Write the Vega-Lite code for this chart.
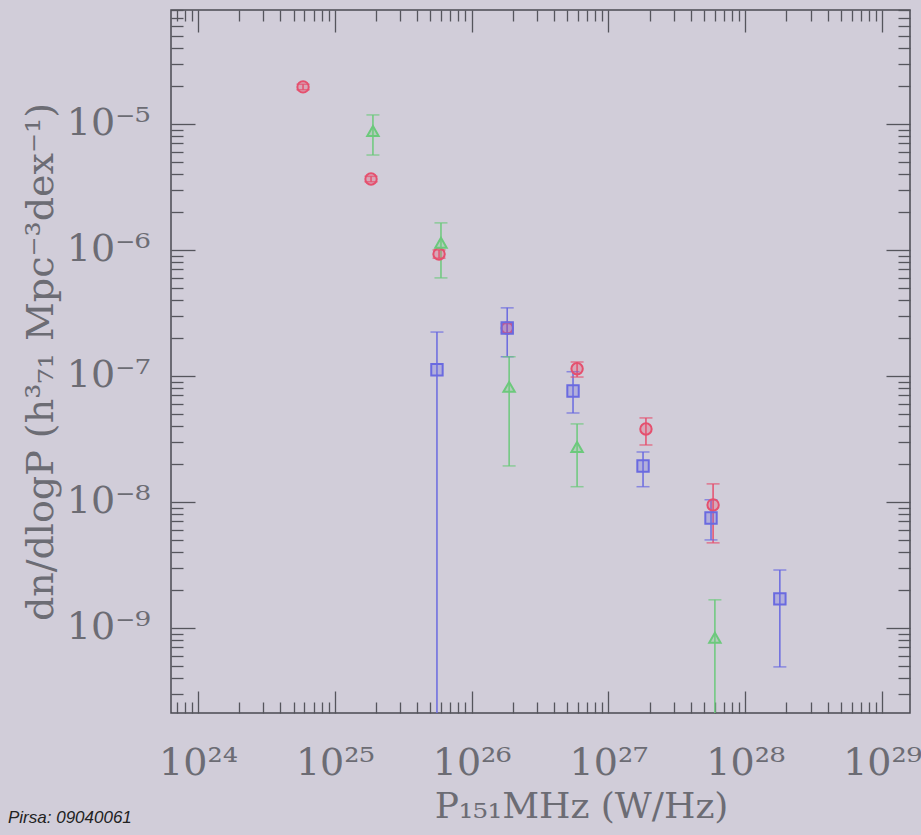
{
  "$schema": "https://vega.github.io/schema/vega-lite/v6.json",
  "width": 739,
  "height": 703,
  "autosize": {"type": "none"},
  "padding": {"left": 171, "top": 10, "right": 11, "bottom": 122},
  "background": "#d1cdd9",
  "title": {
    "text": "Pirsa: 09040061",
    "orient": "bottom",
    "anchor": "start",
    "frame": "group",
    "font": "Liberation Sans",
    "fontStyle": "italic",
    "fontWeight": "normal",
    "fontSize": 17,
    "color": "#222222",
    "offset": -14,
    "dx": -163
  },
  "config": {
    "view": {"stroke": "#4a4a52", "strokeWidth": 1.5},
    "axis": {
      "domain": false,
      "grid": false,
      "tickColor": "#55555c",
      "tickWidth": 1.3,
      "labelOverlap": false,
      "labelBound": false,
      "labelFlush": false,
      "labelFont": "DejaVu Serif",
      "labelFontSize": 38,
      "labelColor": "#6c6c74",
      "titleFont": "DejaVu Serif",
      "titleFontSize": 38,
      "titleFontWeight": "normal",
      "titleColor": "#6c6c74"
    }
  },
  "data": {
    "values": [
      {"s": "A", "P": 5.86e24, "n": 1.97e-5, "lo": 1.87e-5, "hi": 2.07e-5},
      {"s": "A", "P": 1.84e25, "n": 3.66e-6, "lo": 3.48e-6, "hi": 3.84e-6},
      {"s": "A", "P": 5.78e25, "n": 9.29e-7, "lo": 8.6e-7, "hi": 1.0e-6},
      {"s": "A", "P": 1.82e26, "n": 2.40e-7, "lo": 2.2e-7, "hi": 2.6e-7},
      {"s": "A", "P": 5.9e26, "n": 1.14e-7, "lo": 9.8e-8, "hi": 1.29e-7},
      {"s": "A", "P": 1.88e27, "n": 3.79e-8, "lo": 2.83e-8, "hi": 4.64e-8},
      {"s": "A", "P": 5.82e27, "n": 9.46e-9, "lo": 4.73e-9, "hi": 1.39e-8},
      {"s": "B", "P": 1.90e25, "n": 8.8e-6, "lo": 5.67e-6, "hi": 1.18e-5},
      {"s": "B", "P": 5.97e25, "n": 1.14e-6, "lo": 6.0e-7, "hi": 1.64e-6},
      {"s": "B", "P": 1.88e26, "n": 8.19e-8, "lo": 1.93e-8, "hi": 1.42e-7},
      {"s": "B", "P": 5.9e26, "n": 2.73e-8, "lo": 1.32e-8, "hi": 4.16e-8},
      {"s": "B", "P": 6.0e27, "n": 8.34e-10, "lo": 1e-11, "hi": 1.67e-9},
      {"s": "C", "P": 5.58e25, "n": 1.12e-7, "lo": 1e-11, "hi": 2.23e-7},
      {"s": "C", "P": 1.82e26, "n": 2.40e-7, "lo": 1.42e-7, "hi": 3.47e-7},
      {"s": "C", "P": 5.51e26, "n": 7.6e-8, "lo": 5.08e-8, "hi": 1.08e-7},
      {"s": "C", "P": 1.79e27, "n": 1.93e-8, "lo": 1.32e-8, "hi": 2.49e-8},
      {"s": "C", "P": 5.62e27, "n": 7.46e-9, "lo": 4.99e-9, "hi": 1.04e-8},
      {"s": "C", "P": 1.79e28, "n": 1.70e-9, "lo": 4.9e-10, "hi": 2.88e-9}
    ]
  },
  "resolve": {"axis": {"x": "independent", "y": "independent"}},
  "layer": [
    {
      "mark": {"type": "rule", "strokeWidth": 1.5, "clip": true},
      "encoding": {
        "x": {
          "field": "P", "type": "quantitative",
          "scale": {"type": "log", "domain": [6.35e23, 1.6e29], "nice": false},
          "axis": {
            "orient": "bottom",
            "values": [7e23, 8e23, 9e23, 1e24, 2e24, 3e24, 4e24, 5e24, 6e24, 7e24, 8e24, 9e24, 1e25, 2e25, 3e25, 4e25, 5e25, 6e25, 7e25, 8e25, 9e25, 1e26, 2e26, 3e26, 4e26, 5e26, 6e26, 7e26, 8e26, 9e26, 1e27, 2e27, 3e27, 4e27, 5e27, 6e27, 7e27, 8e27, 9e27, 1e28, 2e28, 3e28, 4e28, 5e28, 6e28, 7e28, 8e28, 9e28, 1e29],
            "tickSize": {"condition": {"test": "abs(log(datum.value)/LN10 - round(log(datum.value)/LN10)) < 0.001", "value": -22}, "value": -11},
            "labelExpr": "abs(log(datum.value)/LN10 - round(log(datum.value)/LN10)) > 0.001 ? '' : round(log(datum.value)/LN10) == 24 ? '10²⁴' : round(log(datum.value)/LN10) == 25 ? '10²⁵' : round(log(datum.value)/LN10) == 26 ? '10²⁶' : round(log(datum.value)/LN10) == 27 ? '10²⁷' : round(log(datum.value)/LN10) == 28 ? '10²⁸' : '10²⁹'",
            "labelPadding": 53,
            "title": "P₁₅₁MHz (W/Hz)",
            "titleFontSize": 36,
            "titlePadding": -4,
            "titleX": 410
          }
        },
        "y": {
          "field": "lo", "type": "quantitative",
          "scale": {"type": "log", "domain": [2.11e-10, 8.03e-5], "nice": false},
          "axis": {
            "orient": "left",
            "values": [3e-10, 4e-10, 5e-10, 6e-10, 7e-10, 8e-10, 9e-10, 1e-9, 2e-9, 3e-9, 4e-9, 5e-9, 6e-9, 7e-9, 8e-9, 9e-9, 1e-8, 2e-8, 3e-8, 4e-8, 5e-8, 6e-8, 7e-8, 8e-8, 9e-8, 1e-7, 2e-7, 3e-7, 4e-7, 5e-7, 6e-7, 7e-7, 8e-7, 9e-7, 1e-6, 2e-6, 3e-6, 4e-6, 5e-6, 6e-6, 7e-6, 8e-6, 9e-6, 1e-5, 2e-5, 3e-5, 4e-5, 5e-5, 6e-5, 7e-5, 8e-5],
            "tickSize": {"condition": {"test": "abs(log(datum.value)/LN10 - round(log(datum.value)/LN10)) < 0.001", "value": -24}, "value": -12},
            "labelExpr": "abs(log(datum.value)/LN10 - round(log(datum.value)/LN10)) > 0.001 ? '' : round(log(datum.value)/LN10) == -5 ? '10⁻⁵' : round(log(datum.value)/LN10) == -6 ? '10⁻⁶' : round(log(datum.value)/LN10) == -7 ? '10⁻⁷' : round(log(datum.value)/LN10) == -8 ? '10⁻⁸' : '10⁻⁹'",
            "labelPadding": 45,
            "title": "dn/dlogP  (h³₇₁ Mpc⁻³dex⁻¹)",
            "titlePadding": 6
          }
        },
        "y2": {"field": "hi"},
        "color": {"field": "s", "type": "nominal", "scale": {"domain": ["A", "B", "C"], "range": ["#e5506e", "#6cc97c", "#6a6ae0"]}, "legend": null}
      }
    },
    {
      "mark": {"type": "tick", "orient": "horizontal", "size": 13, "thickness": 1.5, "clip": true},
      "encoding": {
        "x": {
          "field": "P", "type": "quantitative",
          "scale": {"type": "log", "domain": [6.35e23, 1.6e29], "nice": false},
          "axis": {
            "orient": "top",
            "values": [7e23, 8e23, 9e23, 1e24, 2e24, 3e24, 4e24, 5e24, 6e24, 7e24, 8e24, 9e24, 1e25, 2e25, 3e25, 4e25, 5e25, 6e25, 7e25, 8e25, 9e25, 1e26, 2e26, 3e26, 4e26, 5e26, 6e26, 7e26, 8e26, 9e26, 1e27, 2e27, 3e27, 4e27, 5e27, 6e27, 7e27, 8e27, 9e27, 1e28, 2e28, 3e28, 4e28, 5e28, 6e28, 7e28, 8e28, 9e28, 1e29],
            "tickSize": {"condition": {"test": "abs(log(datum.value)/LN10 - round(log(datum.value)/LN10)) < 0.001", "value": -22}, "value": -11},
            "labels": false,
            "title": null
          }
        },
        "y": {
          "field": "lo", "type": "quantitative",
          "scale": {"type": "log", "domain": [2.11e-10, 8.03e-5], "nice": false},
          "axis": {
            "orient": "right",
            "values": [3e-10, 4e-10, 5e-10, 6e-10, 7e-10, 8e-10, 9e-10, 1e-9, 2e-9, 3e-9, 4e-9, 5e-9, 6e-9, 7e-9, 8e-9, 9e-9, 1e-8, 2e-8, 3e-8, 4e-8, 5e-8, 6e-8, 7e-8, 8e-8, 9e-8, 1e-7, 2e-7, 3e-7, 4e-7, 5e-7, 6e-7, 7e-7, 8e-7, 9e-7, 1e-6, 2e-6, 3e-6, 4e-6, 5e-6, 6e-6, 7e-6, 8e-6, 9e-6, 1e-5, 2e-5, 3e-5, 4e-5, 5e-5, 6e-5, 7e-5, 8e-5],
            "tickSize": {"condition": {"test": "abs(log(datum.value)/LN10 - round(log(datum.value)/LN10)) < 0.001", "value": -24}, "value": -12},
            "labels": false,
            "title": null
          }
        },
        "color": {"field": "s", "type": "nominal", "scale": {"domain": ["A", "B", "C"], "range": ["#e5506e", "#6cc97c", "#6a6ae0"]}, "legend": null}
      }
    },
    {
      "mark": {"type": "tick", "orient": "horizontal", "size": 13, "thickness": 1.5, "clip": true},
      "encoding": {
        "x": {"field": "P", "type": "quantitative", "axis": null},
        "y": {"field": "hi", "type": "quantitative", "axis": null},
        "color": {"field": "s", "type": "nominal", "legend": null}
      }
    },
    {
      "mark": {"type": "point", "filled": false, "strokeWidth": 2, "size": 130, "fillOpacity": 0.3, "clip": true},
      "encoding": {
        "x": {"field": "P", "type": "quantitative", "axis": null},
        "y": {"field": "n", "type": "quantitative", "axis": null},
        "color": {"field": "s", "type": "nominal", "legend": null},
        "fill": {"field": "s", "type": "nominal", "scale": {"domain": ["A", "B", "C"], "range": ["#e5506e", "#6cc97c", "#6a6ae0"]}, "legend": null},
        "shape": {"field": "s", "type": "nominal", "scale": {"domain": ["A", "B", "C"], "range": ["circle", "triangle-up", "square"]}, "legend": null}
      }
    }
  ]
}
